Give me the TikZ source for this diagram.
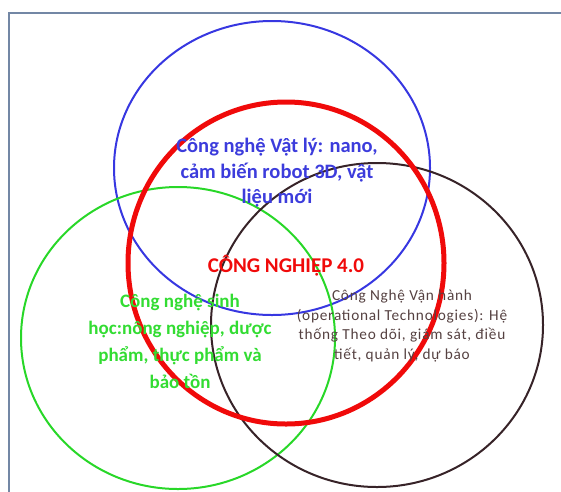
\documentclass[tikz,border=0pt]{standalone}
\usepackage{fontspec}
\setmainfont{Carlito}
\definecolor{cblue}{RGB}{55,55,225}
\definecolor{cred}{RGB}{240,10,10}
\definecolor{cgreen}{RGB}{40,215,40}
\definecolor{cbrown}{RGB}{55,35,40}
\definecolor{tblue}{RGB}{60,60,220}
\definecolor{tgreen}{RGB}{50,220,50}
\definecolor{tbrown}{RGB}{85,65,65}
\definecolor{cframe}{RGB}{115,135,165}
\begin{document}
\begin{tikzpicture}[x=1pt,y=-1pt,
  ring/.style={line width=2pt},
  lbl/.style={align=center,inner sep=0pt}]
\useasboundingbox (0,0) rectangle (561,491);
\begin{scope}
\clip (0,0) rectangle (561,491);
\draw[cframe,line width=2pt] (9,13) rectangle (575,505);
\end{scope}
\draw[ring,cblue] (272,168) ellipse [x radius=158,y radius=147];
\draw[ring,cgreen] (178,338) ellipse [x radius=157,y radius=151];
\draw[ring,cbrown] (377,325) ellipse [x radius=166,y radius=162];
\draw[cred,line width=5pt] (286,263) ellipse [x radius=158,y radius=161];
\node[lbl,text=tblue,font=\bfseries\fontsize{20.5}{25.5}\selectfont] (phys) at (277,173)
  {Công nghệ Vật lý: nano,\\cảm biến robot 3D, vật\\liệu mới};
\node[lbl,text=cred,font=\bfseries\fontsize{21}{24}\selectfont] (core) at (286,266) {CÔNG NGHIỆP 4.0};
\node[lbl,text=tgreen,font=\bfseries\fontsize{19}{27}\selectfont] (bio) at (180,341)
  {Công nghệ sinh\\học:nông nghiệp, dược\\phẩm, thực phẩm và\\bảo tồn};
\node[lbl,text=tbrown,font=\fontsize{15.3}{19.5}\selectfont\addfontfeature{LetterSpace=5}] (ops) at (402,326)
  {Công Nghệ Vận hành\\(operational Technologies): Hệ\\thống Theo dõi, giám sát, điều\\tiết, quản lý, dự báo};
\end{tikzpicture}
\end{document}
